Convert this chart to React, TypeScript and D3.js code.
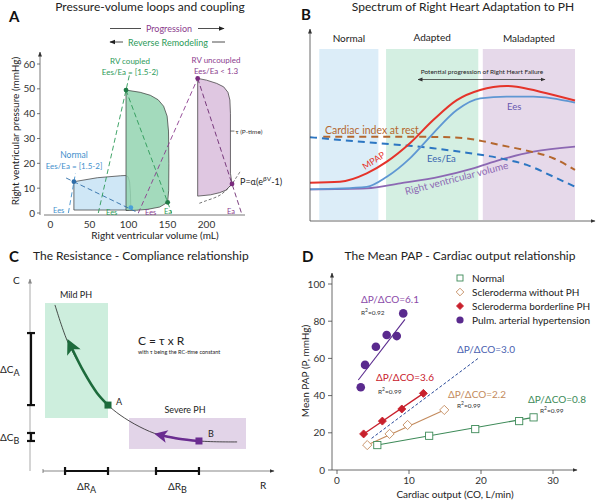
import React from 'react';
import * as d3 from 'd3';

const FONT = 'Lato, "Noto Sans", sans-serif';
type Pt = [number, number];

// ---------- Panel A: pressure–volume loops ----------
const volumeTicks = [0, 50, 100, 150, 200];
const pressureTicks = [0, 10, 20, 30, 40, 50, 60];
const normalLoop: Pt[] = [[30, 1.2], [30, 12.6], [60, 14.2], [90, 15], [96, 15.1], [99.5, 14.6], [101.5, 12.5], [102.5, 8], [103, 2.2], [100, 1.2], [30, 1.2]];
const coupledLoop: Pt[] = [[96.8, 1], [96.8, 49.5], [115, 48.6], [128, 47.4], [138, 45.6], [145, 43], [149.5, 39], [151.3, 33], [151.8, 20], [151.5, 9], [150.2, 4.3], [140, 2.4], [125, 1.5], [110, 1.1], [96.8, 1]];
const uncoupledLoop: Pt[] = [[188.7, 6.8], [188.7, 54.2], [200, 53.5], [213, 52.2], [222, 50.8], [227.5, 48.6], [230, 45.5], [230.7, 40], [230.7, 16], [232.7, 11.7], [225, 9.2], [217, 8.2], [205, 7.3], [188.7, 6.8]];
const edpvrCurve: Pt[] = [[190.8, 3.9], [200, 5], [210, 6.1], [217.3, 7.2], [225, 9.1], [232.7, 11.7], [238, 14.2], [243, 16.6]];
const normalEes: Pt[] = [[22.9, 0], [32, 16]];
const normalEa: Pt[] = [[20, 14.1], [113, 0]];
const coupledEes: Pt[] = [[61.3, 0], [101.5, 56]];
const coupledEa: Pt[] = [[96.8, 49.5], [155.3, 0]];
const uncoupledEes: Pt[] = [[112.6, 0], [188.7, 54.2]];
const uncoupledEa: Pt[] = [[188.7, 54.2], [244.8, 0]];
const normalDots: Pt[] = [[30, 12.6], [103, 2.2]];
const coupledDots: Pt[] = [[96.8, 49.5], [150.2, 4.3]];
const uncoupledDots: Pt[] = [[188.7, 54.2], [232.7, 11.7]];

// ---------- Panel B: adaptation spectrum (stage 0–100, level 0–100) ----------
const stageBands = [
  { name: 'Normal', from: 3.5, to: 25.8, fill: '#dcedf8' },
  { name: 'Adapted', from: 28.7, to: 63.5, fill: '#d4efe2' },
  { name: 'Maladapted', from: 65.2, to: 100, fill: '#e6d9ea' },
];
const mpapCurve: Pt[] = [[0, 22.3], [11.3, 22.8], [21.4, 27.7], [29, 34.5], [37.7, 45.2], [46.5, 58.7], [55.4, 70.3], [64.2, 76.2], [74.2, 78.5], [78, 78.1], [86.8, 75.2], [100, 70.1]];
const eesCurve: Pt[] = [[0, 18.4], [21.4, 19.9], [29, 25.7], [37.7, 36.4], [46.5, 51], [55.4, 64.5], [64.2, 71.3], [74.2, 72.3], [84.3, 72.3], [100, 68.8]];
const cardiacIndexCurve: Pt[] = [[5, 49], [34, 49], [52.8, 48.7], [62.9, 47.1], [71.7, 44.2], [81.8, 40.9], [91.8, 36.5], [100, 29.7]];
const eesEaCurve: Pt[] = [[0, 48.7], [21.4, 45.8], [34, 44.2], [46.5, 42.3], [59.1, 39.7], [71.7, 36.5], [81.8, 32.6], [91.8, 25.8], [100, 19.9]];
const rvVolumeCurve: Pt[] = [[0, 18.4], [21.4, 19], [34, 21.9], [49.1, 25.8], [61.6, 30.6], [71.7, 35.5], [84.3, 40.3], [100, 43.2]];

// ---------- Panel C: resistance–compliance (R 0–100, C 0–100) ----------
const rcCurve: Pt[] = [[10.4, 87.4], [15.4, 68.9], [20.8, 55.8], [27.9, 41.1], [32.5, 34.7], [37.5, 29.5], [45.8, 23.2], [54.2, 18.9], [70.4, 15.8], [86.3, 15.3]];
const pointA: Pt = [32.5, 34.7];
const pointB: Pt = [70.4, 15.8];
const arrowA: Pt[] = [[32.5, 34.7], [27.9, 41.1], [22.5, 52], [17.5, 64.5]];
const arrowB: Pt[] = [[70.4, 15.8], [62, 17], [55.5, 18.6]];
const mildBox = { r0: 6.25, r1: 32.5, c0: 27.9, c1: 88.4 };
const severeBox = { r0: 41.25, r1: 90, c0: 11.6, c1: 27.9 };
const deltaCA: Pt = [34.7, 72.6];
const deltaCB: Pt = [15.8, 20];
const deltaRA: Pt = [14.6, 32.5];
const deltaRB: Pt = [52.5, 70.4];

// ---------- Panel D: mean PAP vs cardiac output ----------
const coTicks = [0, 10, 20, 30];
const papTicks = [0, 20, 40, 60, 80, 100];
const normalCO = [5.6, 12.8, 19.2, 25.3, 27.3];
const normalPAP = [13.4, 18.4, 22.0, 26.3, 28.3];
const sclNoPhCO = [4.2, 7.3, 9.8, 14.9];
const sclNoPhPAP = [13.4, 19.4, 24.2, 32.3];
const sclBorderCO = [3.7, 6.3, 9.0, 12.0];
const sclBorderPAP = [19.4, 26.3, 32.8, 41.2];
const pahCO = [3.3, 3.9, 5.4, 6.9, 8.3, 9.2];
const pahPAP = [44.5, 56.5, 66.3, 72.6, 72.0, 84.2];
const pahFit: Pt[] = [[2.96, 48.4], [9.44, 81.0]];
const referenceSlope: Pt[] = [[4.8, 17], [19.6, 60]];
const legendLabels = ['Normal', 'Scleroderma without PH', 'Scleroderma borderline PH', 'Pulm. arterial hypertension'];

const C_BLUE = '#3f8fcc';
const C_GREEN = '#2c9a58';
const C_PURPLE = '#8b3c8e';

const zip = (a: number[], b: number[]): Pt[] => a.map((v, i) => [v, b[i]]);

function PanelA() {
  const x = d3.scaleLinear().domain([0, 200]).range([50.5, 206.5]);
  const y = d3.scaleLinear().domain([0, 60]).range([213, 64]);
  const line = d3.line<Pt>().x(d => x(d[0])).y(d => y(d[1]));
  const smooth = d3.line<Pt>().x(d => x(d[0])).y(d => y(d[1])).curve(d3.curveCatmullRom);
  const dash = '5,3';
  const dot = (p: Pt, c: string, k: string) => <circle key={k} cx={x(p[0])} cy={y(p[1])} r={2.4} fill={c} />;
  return (
    <g fontFamily={FONT}>
      <text x={150} y={11} fontSize={12} textAnchor="middle" fill="#222">Pressure-volume loops and coupling</text>
      <text x={9} y={22} fontSize={15} fontWeight="bold" fill="#111">A</text>
      {/* progression / reverse remodeling arrows */}
      <line x1={110} x2={141} y1={28.5} y2={28.5} stroke="#222" strokeWidth={0.8} />
      <text x={169} y={32} fontSize={9} textAnchor="middle" fill={C_PURPLE}>Progression</text>
      <line x1={198} x2={224} y1={28.5} y2={28.5} stroke="#222" strokeWidth={0.8} markerEnd="url(#headSmall)" />
      <line x1={123} x2={110} y1={42} y2={42} stroke="#222" strokeWidth={0.8} markerEnd="url(#headSmall)" />
      <text x={168} y={45.5} fontSize={9} textAnchor="middle" fill={C_GREEN}>Reverse Remodeling</text>
      <line x1={212} x2={225} y1={42} y2={42} stroke="#222" strokeWidth={0.8} />
      {/* loops */}
      <path d={line(normalLoop)!} fill="#cfe7f6" stroke="#333" strokeWidth={0.7} />
      <path d={line(coupledLoop)!} fill="#93d3b0" fillOpacity={0.85} stroke="#333" strokeWidth={0.7} />
      <path d={line(uncoupledLoop)!} fill="#dfc7e1" stroke="#333" strokeWidth={0.7} />
      <path d={smooth(edpvrCurve)!} fill="none" stroke="#333" strokeWidth={0.7} strokeDasharray="3,2" />
      {/* elastance lines */}
      <path d={line(normalEes)!} stroke={C_BLUE} strokeWidth={0.9} strokeDasharray={dash} />
      <path d={line(normalEa)!} stroke="#2e6da8" strokeWidth={0.9} strokeDasharray={dash} />
      <path d={line(coupledEes)!} stroke={C_GREEN} strokeWidth={0.9} strokeDasharray={dash} />
      <path d={line(coupledEa)!} stroke={C_GREEN} strokeWidth={0.9} strokeDasharray={dash} />
      <path d={line(uncoupledEes)!} stroke={C_PURPLE} strokeWidth={0.9} strokeDasharray={dash} />
      <path d={line(uncoupledEa)!} stroke="#6c2a70" strokeWidth={0.9} strokeDasharray={dash} />
      {normalDots.map((p, i) => dot(p, i === 0 ? '#2e6da8' : '#4aa0d8', 'n' + i))}
      {coupledDots.map((p, i) => dot(p, '#1f7a45', 'c' + i))}
      {uncoupledDots.map((p, i) => dot(p, '#7a2b7e', 'u' + i))}
      {/* axes */}
      <line x1={40} x2={40} y1={215} y2={52} stroke="#555" strokeWidth={0.8} markerEnd="url(#headTiny)" />
      <line x1={44} x2={245} y1={215} y2={215} stroke="#555" strokeWidth={0.8} />
      {pressureTicks.map(t => (
        <g key={t}>
          <line x1={37} x2={40} y1={y(t)} y2={y(t)} stroke="#555" strokeWidth={0.8} />
          <text x={35} y={y(t) + 3.5} fontSize={10} textAnchor="end" fill="#333">{t}</text>
        </g>
      ))}
      {volumeTicks.map(t => (
        <text key={t} x={x(t)} y={228} fontSize={10} textAnchor="middle" fill="#333">{t}</text>
      ))}
      <text x={155} y={239} fontSize={10} textAnchor="middle" fill="#222">Right ventricular volume (mL)</text>
      <text transform="translate(19,131) rotate(-90)" fontSize={10} textAnchor="middle" fill="#222">Right ventricular pressure (mmHg)</text>
      {/* annotations */}
      <text x={x(96.8) + 4} y={64} fontSize={8} textAnchor="middle" fill={C_GREEN}>RV coupled</text>
      <text x={x(96.8) + 4} y={75} fontSize={8} textAnchor="middle" fill={C_GREEN}>Ees/Ea = [1.5-2)</text>
      <text x={216} y={63} fontSize={8} textAnchor="middle" fill={C_PURPLE}>RV uncoupled</text>
      <text x={216} y={74} fontSize={8} textAnchor="middle" fill={C_PURPLE}>Ees/Ea &lt; 1.3</text>
      <text x={74} y={158} fontSize={8.5} textAnchor="middle" fill={C_BLUE}>Normal</text>
      <text x={74} y={169} fontSize={8} textAnchor="middle" fill={C_BLUE}>Ees/Ea = [1.5-2]</text>
      <text x={53} y={213} fontSize={7.5} fill={C_BLUE}>Ees</text>
      <text x={106} y={215} fontSize={7.5} fill={C_GREEN}>Ees</text>
      <text x={145} y={215} fontSize={7.5} fill={C_PURPLE}>Ees</text>
      <text x={164} y={214} fontSize={7.5} fill={C_GREEN}>Ea</text>
      <text x={227} y={214} fontSize={7.5} fill={C_PURPLE}>Ea</text>
      <line x1={x(230.7)} x2={x(230.7) + 4} y1={y(33)} y2={y(33)} stroke="#333" strokeWidth={0.7} />
      <text x={x(230.7) + 5} y={y(33) + 2.5} fontSize={6.5} fill="#333">τ (P-time)</text>
      <text x={240} y={185} fontSize={9} fill="#222">P=α(e<tspan dy={-4} fontSize={6.5}>βV</tspan><tspan dy={4}>-1)</tspan></text>
    </g>
  );
}

function PanelB() {
  const x = d3.scaleLinear().domain([0, 100]).range([310, 575]);
  const y = d3.scaleLinear().domain([0, 100]).range([221, 49]);
  const curve = d3.line<Pt>().x(d => x(d[0])).y(d => y(d[1])).curve(d3.curveMonotoneX);
  const labelY = [42, 40.5, 42];
  return (
    <g fontFamily={FONT}>
      <text x={463} y={11} fontSize={12} textAnchor="middle" fill="#222">Spectrum of Right Heart Adaptation to PH</text>
      <text x={301} y={20} fontSize={15} fontWeight="bold" fill="#111">B</text>
      {stageBands.map((b, i) => (
        <g key={b.name}>
          <rect x={x(b.from)} y={y(100)} width={x(b.to) - x(b.from)} height={y(0) - y(100) - 1} fill={b.fill} />
          <text x={(x(b.from) + x(b.to)) / 2} y={labelY[i]} fontSize={10} textAnchor="middle" fill="#222">{b.name}</text>
        </g>
      ))}
      <line x1={418} x2={545} y1={79.5} y2={79.5} stroke="#222" strokeWidth={0.7} markerStart="url(#headTinyRev)" markerEnd="url(#headTiny)" />
      <text x={482} y={74} fontSize={6.5} textAnchor="middle" fill="#222">Potential progression of Right Heart Failure</text>
      <path d={curve(rvVolumeCurve)!} fill="none" stroke="#8c68b3" strokeWidth={1.8} />
      <path d={curve(cardiacIndexCurve)!} fill="none" stroke="#b4672e" strokeWidth={2} strokeDasharray="7,5" />
      <path d={curve(eesEaCurve)!} fill="none" stroke="#2c76c2" strokeWidth={2} strokeDasharray="7,5" />
      <path d={curve(eesCurve)!} fill="none" stroke="#5f97d3" strokeWidth={1.8} />
      <path d={curve(mpapCurve)!} fill="none" stroke="#e5332a" strokeWidth={2} />
      <text x={325} y={134} fontSize={10.5} fill="#b4672e">Cardiac index at rest</text>
      <text x={507} y={110} fontSize={9.5} fill="#6657b0">Ees</text>
      <text x={427} y={162} fontSize={9.5} fill="#3a66b0">Ees/Ea</text>
      <text transform="translate(365,170) rotate(-33)" fontSize={9} fill="#e5332a">MPAP</text>
      <text transform="translate(406,195) rotate(-14.5)" fontSize={10} fill="#8c68b3">Right ventricular volume</text>
      <line x1={310} x2={310} y1={221} y2={29} stroke="#444" strokeWidth={0.8} markerEnd="url(#headTiny)" />
      <line x1={310} x2={595} y1={221} y2={221} stroke="#444" strokeWidth={0.8} markerEnd="url(#headTiny)" />
    </g>
  );
}

function PanelC() {
  const x = d3.scaleLinear().domain([0, 100]).range([30, 270]);
  const y = d3.scaleLinear().domain([0, 100]).range([471, 281]);
  const curve = d3.line<Pt>().x(d => x(d[0])).y(d => y(d[1])).curve(d3.curveCatmullRom);
  const bar = 2.2;
  return (
    <g fontFamily={FONT}>
      <text x={9} y={262} fontSize={15} fontWeight="bold" fill="#111">C</text>
      <text x={33} y={260} fontSize={12} fill="#222">The Resistance - Compliance relationship</text>
      <rect x={x(mildBox.r0)} y={y(mildBox.c1)} width={x(mildBox.r1) - x(mildBox.r0)} height={y(mildBox.c0) - y(mildBox.c1)} fill="#cdeedd" />
      <rect x={x(severeBox.r0)} y={y(severeBox.c1)} width={x(severeBox.r1) - x(severeBox.r0)} height={y(severeBox.c0) - y(severeBox.c1)} fill="#e2d4e8" />
      <text x={76} y={298} fontSize={9} textAnchor="middle" fill="#222">Mild PH</text>
      <text x={185} y={413} fontSize={9} textAnchor="middle" fill="#222">Severe PH</text>
      <path d={curve(rcCurve)!} fill="none" stroke="#222" strokeWidth={0.8} />
      <path d={curve(arrowA)!} fill="none" stroke="#1d6b3c" strokeWidth={2.6} markerEnd="url(#headGreen)" />
      <path d={curve(arrowB)!} fill="none" stroke="#6a2c90" strokeWidth={2.6} markerEnd="url(#headPurple)" />
      <rect x={x(pointA[0]) - 3.5} y={y(pointA[1]) - 3.5} width={7} height={7} fill="#1d6b3c" />
      <rect x={x(pointB[0]) - 3.5} y={y(pointB[1]) - 3.5} width={7} height={7} fill="#6a2c90" />
      <text x={116} y={405} fontSize={9} fill="#222">A</text>
      <text x={208} y={437} fontSize={9} fill="#222">B</text>
      <text x={138} y={345} fontSize={12} fill="#222">C = τ x R</text>
      <text x={138} y={354} fontSize={5.5} fill="#222">with τ being the RC-time constant</text>
      {/* axes */}
      <line x1={30} x2={30} y1={471} y2={279} stroke="#aaa" strokeWidth={1} markerEnd="url(#headTinyGray)" />
      <line x1={43} x2={274} y1={471} y2={471} stroke="#555" strokeWidth={0.7} markerEnd="url(#headTiny)" />
      <line x1={43} x2={43} y1={469} y2={473} stroke="#555" strokeWidth={0.7} />
      <text x={13} y={284} fontSize={10} fill="#222">C</text>
      <text x={260} y={489} fontSize={10} fill="#222">R</text>
      {/* delta brackets */}
      {[deltaCA, deltaCB].map((d, i) => (
        <g key={'c' + i} stroke="#111" strokeWidth={bar}>
          <line x1={31} x2={31} y1={y(d[0])} y2={y(d[1])} />
          <line x1={27} x2={35} y1={y(d[0])} y2={y(d[0])} />
          <line x1={27} x2={35} y1={y(d[1])} y2={y(d[1])} />
        </g>
      ))}
      {[deltaRA, deltaRB].map((d, i) => (
        <g key={'r' + i} stroke="#111" strokeWidth={bar}>
          <line x1={x(d[0])} x2={x(d[1])} y1={471} y2={471} />
          <line x1={x(d[0])} x2={x(d[0])} y1={467} y2={475} />
          <line x1={x(d[1])} x2={x(d[1])} y1={467} y2={475} />
        </g>
      ))}
      <text x={0} y={373} fontSize={10} fill="#222">ΔC<tspan dy={3} fontSize={9}>A</tspan></text>
      <text x={0} y={441} fontSize={10} fill="#222">ΔC<tspan dy={3} fontSize={9}>B</tspan></text>
      <text x={(x(deltaRA[0]) + x(deltaRA[1])) / 2} y={490} fontSize={10} textAnchor="middle" fill="#222">ΔR<tspan dy={3} fontSize={9}>A</tspan></text>
      <text x={(x(deltaRB[0]) + x(deltaRB[1])) / 2} y={490} fontSize={10} textAnchor="middle" fill="#222">ΔR<tspan dy={3} fontSize={9}>B</tspan></text>
    </g>
  );
}

function PanelD() {
  const x = d3.scaleLinear().domain([0, 30]).range([337, 553]);
  const y = d3.scaleLinear().domain([0, 100]).range([470, 284]);
  const line = d3.line<Pt>().x(d => x(d[0])).y(d => y(d[1]));
  const normal = zip(normalCO, normalPAP);
  const noPh = zip(sclNoPhCO, sclNoPhPAP);
  const border = zip(sclBorderCO, sclBorderPAP);
  const pah = zip(pahCO, pahPAP);
  const endpoints = (a: Pt[]): Pt[] => [a[0], a[a.length - 1]];
  const square = (cx: number, cy: number, k: string) => <rect key={k} x={cx - 3.6} y={cy - 3.6} width={7.2} height={7.2} fill="#fff" stroke="#3d8a58" strokeWidth={0.9} />;
  const diamond = (cx: number, cy: number, k: string, fill: string, stroke: string, s = 4.6) => (
    <path key={k} d={`M${cx},${cy - s}L${cx + s},${cy}L${cx},${cy + s}L${cx - s},${cy}Z`} fill={fill} stroke={stroke} strokeWidth={0.9} />
  );
  const green = '#3d8a58', brown = '#c38a5c', red = '#c8202c', purple = '#5a2a8e';
  return (
    <g fontFamily={FONT}>
      <text x={302} y={262} fontSize={15} fontWeight="bold" fill="#111">D</text>
      <text x={460} y={260} fontSize={12} textAnchor="middle" fill="#222">The Mean PAP - Cardiac output relationship</text>
      <line x1={332} x2={332} y1={470} y2={273} stroke="#444" strokeWidth={0.8} markerEnd="url(#headTiny)" />
      <line x1={332} x2={577} y1={470} y2={470} stroke="#444" strokeWidth={0.8} markerEnd="url(#headTiny)" />
      {papTicks.map(t => (
        <g key={t}>
          <line x1={328} x2={332} y1={y(t)} y2={y(t)} stroke="#444" strokeWidth={0.8} />
          <text x={325} y={y(t) + 3.5} fontSize={10} textAnchor="end" fill="#333">{t}</text>
        </g>
      ))}
      {coTicks.map(t => (
        <g key={t}>
          <line x1={x(t)} x2={x(t)} y1={470} y2={474} stroke="#444" strokeWidth={0.8} />
          <text x={x(t)} y={484} fontSize={10} textAnchor="middle" fill="#333">{t}</text>
        </g>
      ))}
      <text x={455} y={498} fontSize={10} textAnchor="middle" fill="#222">Cardiac output (CO, L/min)</text>
      <text transform="translate(309,371) rotate(-90)" fontSize={10} textAnchor="middle" fill="#222">Mean PAP (P, mmHg)</text>
      {/* fits */}
      <path d={line(endpoints(normal))!} stroke={green} strokeWidth={1.1} />
      <path d={line(endpoints(noPh))!} stroke={brown} strokeWidth={1.1} />
      <path d={line(endpoints(border))!} stroke={red} strokeWidth={1.3} />
      <path d={line(pahFit)!} stroke={purple} strokeWidth={1.1} />
      <path d={line(referenceSlope)!} stroke="#2a4a9a" strokeWidth={1} strokeDasharray="3,2" />
      {normal.map((p, i) => square(x(p[0]), y(p[1]), 'n' + i))}
      {noPh.map((p, i) => diamond(x(p[0]), y(p[1]), 'd' + i, '#fff', brown))}
      {border.map((p, i) => diamond(x(p[0]), y(p[1]), 'b' + i, red, red, 4))}
      {pah.map((p, i) => <circle key={'p' + i} cx={x(p[0])} cy={y(p[1])} r={4.3} fill={purple} />)}
      {/* slope labels */}
      <text x={361} y={303} fontSize={10} fill="#8a4aa8">ΔP/ΔCO=6.1</text>
      <text x={361} y={315} fontSize={6.5} fill="#333">R<tspan dy={-3} fontSize={5}>2</tspan><tspan dy={3}>=0.92</tspan></text>
      <text x={376} y={381} fontSize={10} fill={red}>ΔP/ΔCO=3.6</text>
      <text x={378} y={394} fontSize={6.5} fill="#333">R<tspan dy={-3} fontSize={5}>2</tspan><tspan dy={3}>=0.99</tspan></text>
      <text x={457} y={353} fontSize={10} fill="#4a5fb0">ΔP/ΔCO=3.0</text>
      <text x={448} y={398} fontSize={10} fill={brown}>ΔP/ΔCO=2.2</text>
      <text x={457} y={408} fontSize={6.5} fill="#333">R<tspan dy={-3} fontSize={5}>2</tspan><tspan dy={3}>=0.99</tspan></text>
      <text x={528} y={403} fontSize={10} fill={green}>ΔP/ΔCO=0.8</text>
      <text x={540} y={413} fontSize={6.5} fill="#333">R<tspan dy={-3} fontSize={5}>2</tspan><tspan dy={3}>=0.99</tspan></text>
      {/* legend */}
      {legendLabels.map((lab, i) => {
        const ly = 278 + i * 14;
        let mark;
        if (i === 0) mark = <rect x={460 - 3} y={ly - 3} width={6} height={6} fill="#fff" stroke={green} strokeWidth={0.9} />;
        else if (i === 1) mark = diamond(460, ly, 'l1', '#fff', brown, 3.8);
        else if (i === 2) mark = diamond(460, ly, 'l2', red, red, 3.5);
        else mark = <circle cx={460} cy={ly} r={3.6} fill={purple} />;
        return (
          <g key={lab}>
            {mark}
            <text x={472} y={ly + 3.5} fontSize={10} fill="#222">{lab}</text>
          </g>
        );
      })}
    </g>
  );
}

export default function App() {
  return (
    <svg width={600} height={504} viewBox="0 0 600 504" style={{ position: 'absolute', left: 0, top: 0, background: '#fff' }}>
      <defs>
        <marker id="headSmall" viewBox="0 0 10 10" refX={9} refY={5} markerWidth={6} markerHeight={6} markerUnits="userSpaceOnUse" orient="auto">
          <path d="M0,1L10,5L0,9Z" fill="#222" />
        </marker>
        <marker id="headTiny" viewBox="0 0 10 10" refX={9} refY={5} markerWidth={5} markerHeight={5} markerUnits="userSpaceOnUse" orient="auto">
          <path d="M0,1L10,5L0,9Z" fill="#333" />
        </marker>
        <marker id="headTinyRev" viewBox="0 0 10 10" refX={1} refY={5} markerWidth={5} markerHeight={5} markerUnits="userSpaceOnUse" orient="auto">
          <path d="M10,1L0,5L10,9Z" fill="#333" />
        </marker>
        <marker id="headTinyGray" viewBox="0 0 10 10" refX={9} refY={5} markerWidth={5} markerHeight={5} markerUnits="userSpaceOnUse" orient="auto">
          <path d="M0,1L10,5L0,9Z" fill="#888" />
        </marker>
        <marker id="headGreen" viewBox="0 0 10 10" refX={3} refY={5} markerWidth={17} markerHeight={15} markerUnits="userSpaceOnUse" orient="auto">
          <path d="M0,0L10,5L0,10L2.5,5Z" fill="#1d6b3c" />
        </marker>
        <marker id="headPurple" viewBox="0 0 10 10" refX={3} refY={5} markerWidth={15} markerHeight={13} markerUnits="userSpaceOnUse" orient="auto">
          <path d="M0,0L10,5L0,10L2.5,5Z" fill="#6a2c90" />
        </marker>
      </defs>
      <PanelA />
      <PanelB />
      <PanelC />
      <PanelD />
    </svg>
  );
}
